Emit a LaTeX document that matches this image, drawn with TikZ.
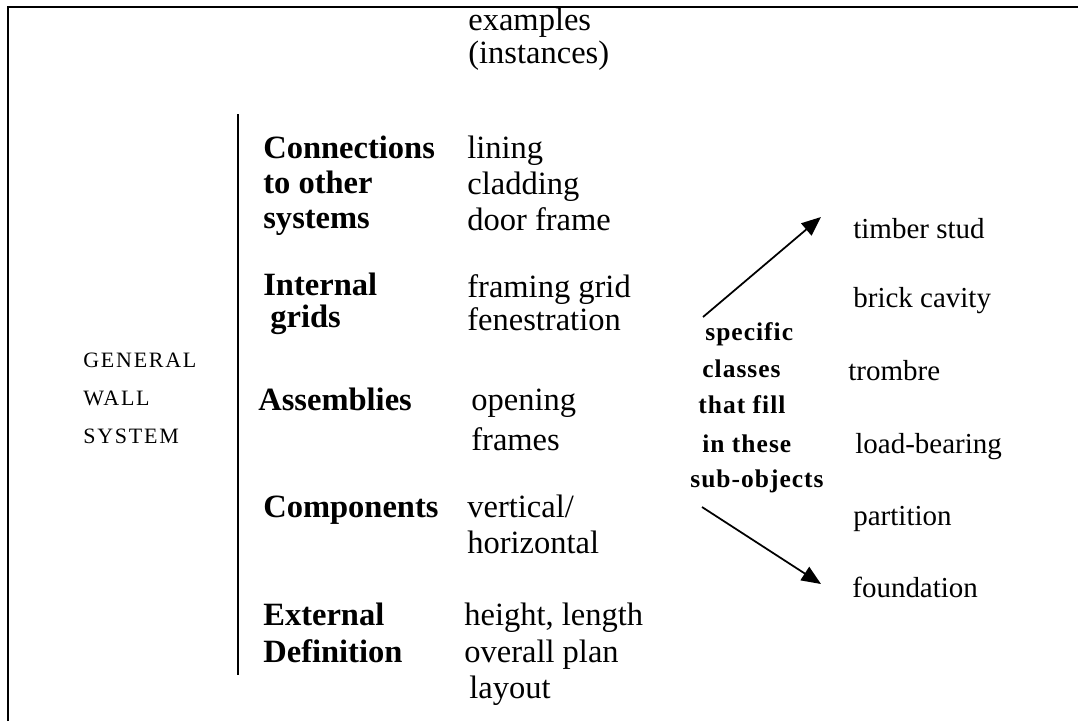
\documentclass[tikz,border=0pt]{standalone}
\usepackage{fontspec}
\setmainfont{Liberation Serif}
\newfontfamily\widebf[LetterSpace=4]{Liberation Serif}
\newfontfamily\capsfont[LetterSpace=8]{Liberation Serif}
\usetikzlibrary{arrows.meta, positioning}

\begin{document}
\begin{tikzpicture}[
  x=0.02cm, y=-0.02cm,
  txt/.style   = {anchor=base west, inner sep=0pt},
  head/.style  = {txt, font=\fontsize{18.5}{22}\selectfont\bfseries},
  inst/.style  = {txt, font=\fontsize{18.5}{22}\selectfont},
  spec/.style  = {txt, font=\fontsize{14.5}{18}\selectfont\widebf\bfseries},
  cls/.style   = {txt, font=\fontsize{16.5}{20}\selectfont},
  wall/.style  = {txt, font=\fontsize{12.5}{15}\selectfont\capsfont},
  fill arrow/.style = {line width=1pt, -{Triangle[length=11pt, width=9pt]}}
]
  \useasboundingbox (0,0) rectangle (1078,721);
  % frame on top and left
  \draw[line width=1.2pt] (8,721) -- (8,7) -- (1078,7);

  % column header
  \node[inst] (ex1) at (468,30) {examples};
  \node[inst] (ex2) at (468,63) {(instances)};

  % whole system
  \node[wall] (gen)  at (83,367) {GENERAL};
  \node[wall] (wal)  at (83,405) {WALL};
  \node[wall] (sys)  at (83,443) {SYSTEM};
  \draw[line width=1pt] (238,114) -- (238,675);

  % sub-objects
  \node[head] (con1) at (263,158) {Connections};
  \node[head] (con2) at (263,193) {to other};
  \node[head] (con3) at (263,228) {systems};
  \node[head] (int1) at (263,295) {Internal};
  \node[head] (int2) at (270,327) {grids};
  \node[head] (asm)  at (258,410) {Assemblies};
  \node[head] (cmp)  at (263,517) {Components};
  \node[head] (ext1) at (263,625) {External};
  \node[head] (ext2) at (263,662) {Definition};

  % examples
  \node[inst] (lin)  at (467,158) {lining};
  \node[inst] (cla)  at (467,194) {cladding};
  \node[inst] (dor)  at (467,230) {door frame};
  \node[inst] (frg)  at (467,297) {framing grid};
  \node[inst] (fen)  at (467,330) {fenestration};
  \node[inst] (opn)  at (471,410) {opening};
  \node[inst] (frm)  at (471,450) {frames};
  \node[inst] (ver)  at (467,517) {vertical/};
  \node[inst] (hor)  at (467,553) {horizontal};
  \node[inst] (hei)  at (464,625) {height, length};
  \node[inst] (ovr)  at (464,662) {overall plan};
  \node[inst] (lay)  at (469,698) {layout};

  % specific classes
  \node[spec] (sp1) at (705,340) {specific};
  \node[spec] (sp2) at (702,377) {classes};
  \node[spec] (sp3) at (698,413) {that fill};
  \node[spec] (sp4) at (702,452) {in these};
  \node[spec] (sp5) at (690,487) {sub-objects};

  \node[cls] (tim) at (853,238) {timber stud};
  \node[cls] (bri) at (853,307) {brick cavity};
  \node[cls] (tro) at (848,380) {trombre};
  \node[cls] (loa) at (855,453) {load-bearing};
  \node[cls] (par) at (853,525) {partition};
  \node[cls] (fou) at (852,597) {foundation};

  \coordinate (upfrom)   at (703,317);
  \coordinate (upto)     at (821,217);
  \coordinate (downfrom) at (702,507);
  \coordinate (downto)   at (821,584);
  \draw[fill arrow] (upfrom)   -- (upto);
  \draw[fill arrow] (downfrom) -- (downto);
\end{tikzpicture}
\end{document}
